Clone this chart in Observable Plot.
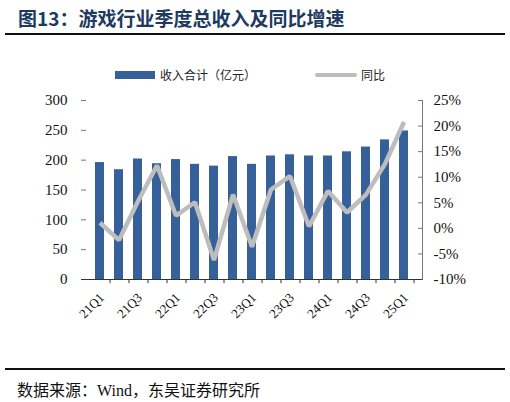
<!DOCTYPE html>
<html><head><meta charset="utf-8">
<script src="https://cdn.jsdelivr.net/npm/d3@7"></script>
<script src="https://cdn.jsdelivr.net/npm/@observablehq/plot@0.6"></script>
<style>
body{margin:0;background:#fff;}
#wrap{position:relative;width:510px;height:402px;overflow:hidden;background:#fff;}
#title{position:absolute;left:18px;top:4px;font-family:"Noto Sans CJK SC";font-weight:bold;font-size:19px;color:#1e3a5f;white-space:nowrap;}
#rule1{position:absolute;left:5px;top:33px;width:500px;height:2px;background:#111;}
#rule2{position:absolute;left:5px;top:368px;width:500px;height:2px;background:#111;}
#foot{position:absolute;left:17px;top:377px;font-family:"Noto Sans CJK SC";font-size:16px;color:#111;white-space:nowrap;}
#legend{position:absolute;left:0;top:66px;width:510px;height:18px;font-family:"Noto Sans CJK SC";font-size:12px;color:#222;}
.sw1{position:absolute;left:115px;top:5px;width:40px;height:8px;background:#35609a;}
.t1{position:absolute;left:160px;top:0px;}
.sw2{position:absolute;left:315px;top:7px;width:42px;height:4px;background:#bdbdbd;border-radius:2px;}
.t2{position:absolute;left:361px;top:0px;}
#chart{position:absolute;left:0;top:0;}
#chart svg text{font-family:"Liberation Serif","Times New Roman",serif !important;}
.serif{font-family:"Liberation Serif","Times New Roman",serif;}
</style></head>
<body>
<div id="wrap">
<div id="chart"></div>
<div id="title">图13：游戏行业季度总收入及同比增速</div>
<div id="rule1"></div>
<div id="legend"><div class="sw1"></div><div class="t1">收入合计（亿元）</div><div class="sw2"></div><div class="t2">同比</div></div>
<div id="rule2"></div>
<div id="foot">数据来源：<span class="serif">Wind</span>，东吴证券研究所</div>
</div>
<script>
const quarters = ["21Q1","21Q2","21Q3","21Q4","22Q1","22Q2","22Q3","22Q4","23Q1","23Q2","23Q3","23Q4","24Q1","24Q2","24Q3","24Q4","25Q1"];
const revenue = [196,184,202,194,201,193,190,206,193,207,209,207,207,214,222,234,249];
const yoy = [1.1,-2.3,5.3,12.3,2.5,5.1,-6.2,6.6,-3.6,7.6,10.2,0.4,7.3,3.1,6.6,12.6,20.8];
const leftTicks = [0,50,100,150,200,250,300];
const rightTicks = [-10,-5,0,5,10,15,20,25];
const shownLabels = ["21Q1","21Q3","22Q1","22Q3","23Q1","23Q3","24Q1","24Q3","25Q1"];

// right axis: -10%..25% mapped onto left 0..300
const toLeft = p => (p + 10) / 35 * 300;

const data = quarters.map((q, i) => ({q, rev: revenue[i], yoy: yoy[i]}));

const serif = "Liberation Serif";
const chart = Plot.plot({
  width: 510,
  height: 402,
  marginLeft: 81,
  marginRight: 88,
  marginTop: 100,
  marginBottom: 123,
  style: {fontFamily: serif, fontSize: "15px", color: "#111", background: "transparent"},
  x: {domain: quarters, padding: 0.53, axis: null},
  y: {domain: [0, 300], axis: null},
  marks: [
    Plot.barY(data, {x: "q", y: "rev", fill: "#35609a"}),
    Plot.lineY(data, {x: "q", y: d => toLeft(d.yoy), stroke: "#bdbdbd", strokeWidth: 4.5, strokeLinejoin: "miter", strokeLinecap: "butt"}),
    // left axis
    Plot.axisY(leftTicks, {anchor: "left", label: null, tickSize: -5, tickPadding: 19, stroke: "#777", fontSize: 15, fill: "#111"}),
    Plot.ruleX([0], {frameAnchor: "left", stroke: "#777"}),
    // right axis
    Plot.axisY(rightTicks.map(toLeft), {anchor: "right", label: null, tickSize: -5, tickPadding: 16, stroke: "#777", tickFormat: v => Math.round(v * 35 / 300 - 10) + "%", fontSize: 15, fill: "#111"}),
    Plot.frame({anchor: "right", stroke: "#777"}),
    // x axis
    Plot.ruleY([0], {stroke: "#333"}),
    Plot.ruleX(quarters, {x: d => d, dx: 10, y1: 0, y2: -7, stroke: "#333"}),
    Plot.text(shownLabels, {x: d => d, y: 0, dy: 16, dx: 2, rotate: -45, textAnchor: "end", fontSize: 13, fill: "#111"})
  ]
});
document.getElementById("chart").appendChild(chart);
</script>
</body></html>
